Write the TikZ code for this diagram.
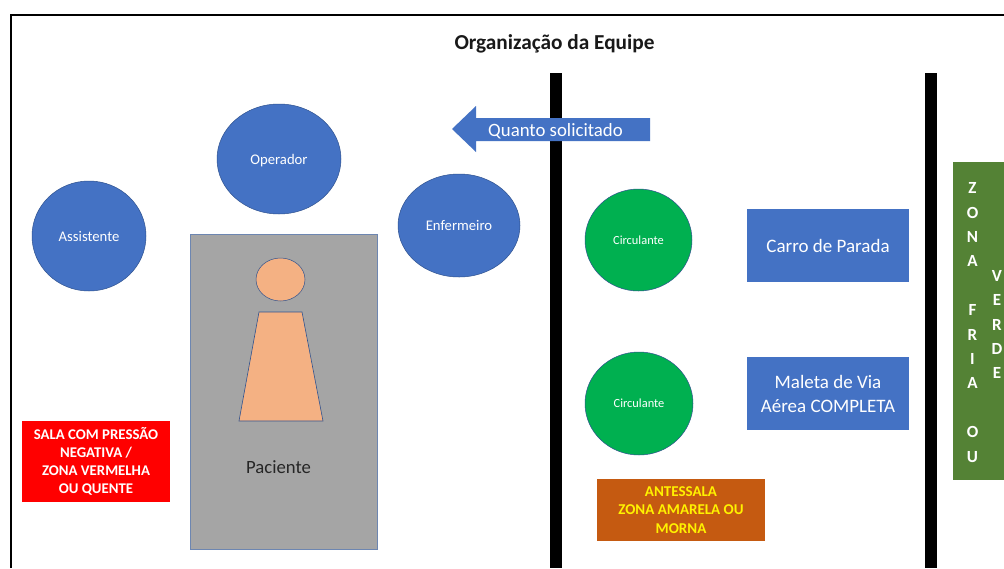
\documentclass[tikz,border=0pt]{standalone}
\usepackage{fontspec}
\setmainfont{Carlito}
\usetikzlibrary{shapes.geometric,shapes.arrows}
\definecolor{blueb}{HTML}{4472C4}
\definecolor{blueline}{HTML}{2F528F}
\definecolor{circgreen}{HTML}{00B050}
\definecolor{grayb}{HTML}{A5A5A5}
\definecolor{skin}{HTML}{F4B183}
\definecolor{zonegreen}{HTML}{548235}
\definecolor{zoneorange}{HTML}{C55A11}
\tikzset{
  person/.style={ellipse,fill=blueb,draw=blueline,line width=.5pt,text=white,inner sep=0pt,font=\fontsize{14.7}{17}\selectfont},
  circ/.style={ellipse,fill=circgreen,draw=blueline,line width=.5pt,text=white,inner sep=0pt,font=\fontsize{12.4}{14}\selectfont},
  kit/.style={rectangle,fill=blueb,draw=none,text=white,inner sep=0pt,align=center,font=\fontsize{19}{24}\selectfont},
  bar/.style={fill=black,draw=none},
  zonev/.style={text=white,align=center,inner sep=0pt,font=\fontsize{17}{24.4}\selectfont\bfseries}
}
\begin{document}
\begin{tikzpicture}[x=1pt,y=-1pt]
\useasboundingbox (0,0) rectangle (1004,568);
\clip (0,0) rectangle (1004,568);
\fill[white] (0,0) rectangle (1004,568);
\draw[black,line width=2pt] (11,568) -- (11,15) -- (1004,15);
\node[font=\fontsize{21.3}{25}\selectfont\bfseries,text=black!90] (title) at (554.5,43.5) {Organização da Equipe};
\fill[bar] (550,73) rectangle (562,568);
\fill[bar] (925,73) rectangle (937,568);
\fill[blueb] (452,129) -- (476,106) -- (476,118) -- (650,118) -- (650,141) -- (476,141) -- (476,152) -- cycle;
\node[text=white,font=\fontsize{18.8}{22}\selectfont] (arrowlabel) at (555.5,131) {Quanto solicitado};
\node[person,minimum width=114pt,minimum height=110pt] (assistente) at (89,236) {Assistente};
\node[person,minimum width=124pt,minimum height=110pt,text depth=0pt,yshift=0pt] (operador) at (279,159) {\raisebox{-1.5pt}{Operador}};
\node[person,minimum width=122pt,minimum height=103pt] (enfermeiro) at (459,225.5) {Enfermeiro};
\node[rectangle,fill=grayb,draw=blueline!70,line width=1pt,minimum width=187pt,minimum height=315pt,inner sep=0pt] (paciente) at (283.5,391.5) {};
\node[font=\fontsize{18.7}{22}\selectfont,text=black!85] (pacientelabel) at (278.5,467.5) {Paciente};
\node[ellipse,fill=skin,draw=blueline,line width=.5pt,minimum width=49pt,minimum height=43pt,inner sep=0pt] (head) at (280.5,279.5) {};
\draw[fill=skin,draw=blueline,line width=.6pt] (259,312) -- (302,312) -- (323,421) -- (239,421) -- cycle;
\node[circ,minimum width=107pt,minimum height=102pt] (circ1) at (638.5,240) {Circulante};
\node[circ,minimum width=108pt,minimum height=103pt] (circ2) at (639,403.5) {Circulante};
\node[kit,minimum width=162pt,minimum height=73pt] (carro) at (828,245.5) {Carro de Parada};
\node[kit,minimum width=162pt,minimum height=73pt] (maleta) at (828,393.5) {Maleta de Via\\Aérea COMPLETA};
\node[rectangle,fill=red,text=white,inner sep=0pt,align=center,minimum width=148pt,minimum height=81pt,font=\fontsize{14.8}{18}\selectfont\bfseries] (sala) at (96,461.5) {SALA COM PRESSÃO\\NEGATIVA /\\ZONA VERMELHA\\OU QUENTE};
\node[rectangle,fill=zoneorange,text=yellow,inner sep=0pt,align=center,minimum width=168pt,minimum height=62pt,font=\fontsize{15}{18.5}\selectfont\bfseries] (antessala) at (681,510) {ANTESSALA\\ZONA AMARELA OU\\MORNA};
\node[rectangle,fill=zonegreen,minimum width=60pt,minimum height=318pt,inner sep=0pt] (zona) at (983,321) {};
\node[zonev,anchor=north] (fria) at (972.5,182.5) {Z\\O\\N\\A\\[24.4pt]F\\R\\I\\A\\[24.4pt]O\\U};
\node[zonev,anchor=north] (verde) at (997,270) {V\\E\\R\\D\\E};
\end{tikzpicture}
\end{document}
